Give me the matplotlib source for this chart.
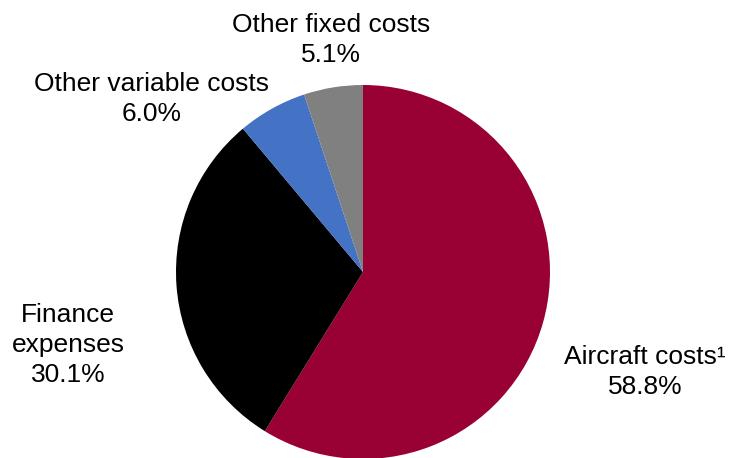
import matplotlib
matplotlib.use('Agg')
import matplotlib.pyplot as plt

plt.rcParams['font.family'] = ['Liberation Sans', 'DejaVu Sans']

labels = ['Aircraft costs\u00b9', 'Finance\nexpenses', 'Other variable costs', 'Other fixed costs']
shares = [58.8, 30.1, 6.0, 5.1]
colors = ['#990033', '#000000', '#4472C4', '#808080']

W, H = 730, 458
fig = plt.figure(figsize=(W / 100, H / 100), dpi=100)

# pie centre (363, 272) px, radius 187 px
cx, cy, r = 363, 272, 187
ax = fig.add_axes([(cx - r) / W, (H - cy - r) / H, 2 * r / W, 2 * r / H])
ax.pie(shares, colors=colors, startangle=90, counterclock=False, radius=1,
       wedgeprops={'linewidth': 0})
ax.set_xlim(-1, 1)
ax.set_ylim(-1, 1)
ax.set_aspect('equal')
ax.axis('off')

# label centres in pixels
label_pos = [(645, 372), (68, 345), (152, 99), (331, 40)]
for lab, val, (px, py) in zip(labels, shares, label_pos):
    fig.text(px / W, 1 - py / H, '{}\n{:.1f}%'.format(lab, val), ha='center', va='center',
             fontsize=19, linespacing=1.34, color='black')

fig.savefig('out.png', dpi=100)
